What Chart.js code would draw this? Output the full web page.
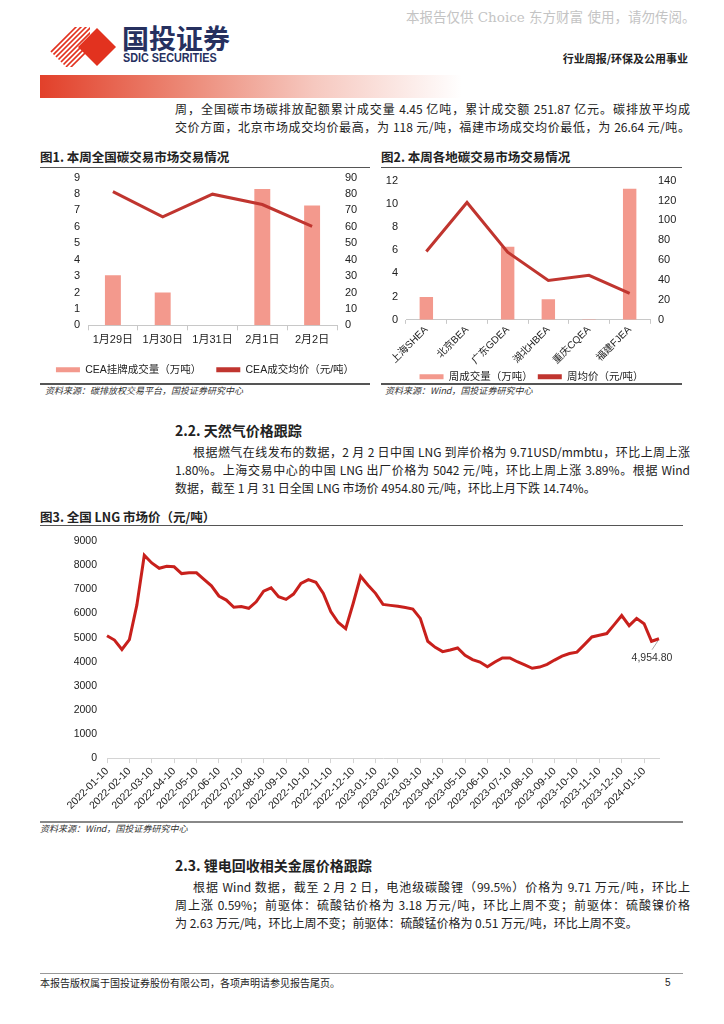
<!DOCTYPE html>
<html>
<head>
<meta charset="utf-8">
<script src="https://cdn.jsdelivr.net/npm/chart.js@4.4.1/dist/chart.umd.min.js"></script>
<style>
  body { margin: 0; background: #fff; }
  #page { position: relative; width: 724px; height: 1024px; overflow: hidden; font-family: "Noto Sans CJK SC", "Noto Sans", sans-serif; color: #222; }
  .abs { position: absolute; }
  .line { position: absolute; left: 175px; width: 515px; height: 18px; font-size: 12px; line-height: 18px; text-align: justify; text-align-last: justify; }
  .line.last { text-align-last: left; }
  .line.indent { padding-left: 18px; width: 497px; }
  .title { position: absolute; font-size: 12.5px; font-weight: 700; line-height: 16px; }
  .rule { position: absolute; height: 0; border-top: 1.5px solid #555; }
  .src { position: absolute; font-size: 9px; font-style: italic; color: #333; line-height: 12px; }
  .h2 { position: absolute; left: 175px; font-size: 14px; font-weight: 700; line-height: 18px; }
  .box { position: absolute; }
</style>
</head>
<body>
<div id="page">
  <!-- header -->
  <div class="abs" style="left:406px;top:6px;font-size:13.5px;color:#c4c4c4;font-family:'DejaVu Serif','Noto Sans CJK SC';white-space:nowrap;">本报告仅供 Choice 东方财富 使用，请勿传阅。</div>
  <svg class="abs" style="left:44px;top:25px" width="76" height="44" viewBox="0 0 76 44">
    <defs>
      <clipPath id="stripeClip"><polygon points="2,22 22,2 46,2 46,42 22,42"/></clipPath>
    </defs>
    <g clip-path="url(#stripeClip)" stroke="#e2321f" stroke-width="1.6">
      <line x1="-10" y1="44" x2="34" y2="0"/><line x1="-5" y1="44" x2="39" y2="0"/>
      <line x1="0" y1="44" x2="44" y2="0"/><line x1="5" y1="44" x2="49" y2="0"/>
      <line x1="10" y1="44" x2="54" y2="0"/><line x1="15" y1="44" x2="59" y2="0"/>
      <line x1="20" y1="44" x2="64" y2="0"/><line x1="25" y1="44" x2="69" y2="0"/>
    </g>
    <polygon points="34,22 53,3 72,22 53,41" fill="#e2321f"/>
  </svg>
  <div class="abs" style="left:122px;top:22px;font-size:27px;font-weight:700;color:#26305f;line-height:32px;">国投证券</div>
  <div class="abs" style="left:123px;top:51px;font-size:13.5px;font-weight:700;color:#26305f;font-family:'Liberation Sans',Arial;line-height:14px;white-space:nowrap;transform:scaleX(0.8);transform-origin:left top;">SDIC SECURITIES</div>
  <div class="abs" style="right:36px;top:51px;font-size:11px;font-weight:700;color:#222;line-height:14px;">行业周报/环保及公用事业</div>
  <div class="abs" style="left:40px;top:75px;width:422px;height:23px;background:linear-gradient(to right,#e2402a 0%,#ec8a78 35%,#f6c8bf 65%,rgba(255,255,255,0) 100%);"></div>

  <div class="line" style="top:100px;">周，全国碳市场碳排放配额累计成交量 4.45 亿吨，累计成交额 251.87 亿元。碳排放平均成</div>
  <div class="line" style="top:118px;">交价方面，北京市场成交均价最高，为 118 元/吨，福建市场成交均价最低，为 26.64 元/吨。</div>

  <!-- figure 1 & 2 -->
  <div class="title" style="left:40px;top:149px;">图1. 本周全国碳交易市场交易情况</div>
  <div class="rule" style="left:40px;top:167px;width:330px;"></div>
  <div class="rule" style="left:40px;top:383px;width:330px;border-top-width:2px;"></div>
  <div class="src" style="left:45px;top:385px;">资料来源：碳排放权交易平台，国投证券研究中心</div>
  <div class="box" style="left:40px;top:163px;width:330px;height:222px;"><canvas id="ceaChart"></canvas></div>

  <div class="title" style="left:381px;top:149px;">图2. 本周各地碳交易市场交易情况</div>
  <div class="rule" style="left:381px;top:167px;width:301px;"></div>
  <div class="rule" style="left:381px;top:383px;width:301px;border-top-width:2px;"></div>
  <div class="src" style="left:385px;top:385px;">资料来源：Wind，国投证券研究中心</div>
  <div class="box" style="left:381px;top:166px;width:301px;height:226px;"><canvas id="regionChart"></canvas></div>

  <!-- 2.2 -->
  <div class="h2" style="top:421px;">2.2. 天然气价格跟踪</div>
  <div class="line indent" style="top:443px;">根据燃气在线发布的数据，2 月 2 日中国 LNG 到岸价格为 9.71USD/mmbtu，环比上周上涨</div>
  <div class="line" style="top:461px;">1.80%。上海交易中心的中国 LNG 出厂价格为 5042 元/吨，环比上周上涨 3.89%。根据 Wind</div>
  <div class="line last" style="top:479px;">数据，截至 1 月 31 日全国 LNG 市场价 4954.80 元/吨，环比上月下跌 14.74%。</div>

  <!-- figure 3 -->
  <div class="title" style="left:40px;top:509px;">图3. 全国 LNG 市场价（元/吨）</div>
  <div class="rule" style="left:40px;top:525px;width:643px;"></div>
  <div class="rule" style="left:40px;top:821px;width:643px;border-top-width:2px;border-color:#888;"></div>
  <div class="src" style="left:40px;top:823px;">资料来源：Wind，国投证券研究中心</div>
  <div class="box" style="left:40px;top:525px;width:643px;height:295px;"><canvas id="lngChart"></canvas></div>

  <!-- 2.3 -->
  <div class="h2" style="top:856px;">2.3. 锂电回收相关金属价格跟踪</div>
  <div class="line indent" style="top:878px;">根据 Wind 数据，截至 2 月 2 日，电池级碳酸锂（99.5%）价格为 9.71 万元/吨，环比上</div>
  <div class="line" style="top:896px;">周上涨 0.59%；前驱体：硫酸钴价格为 3.18 万元/吨，环比上周不变；前驱体：硫酸镍价格</div>
  <div class="line last" style="top:914px;">为 2.63 万元/吨，环比上周不变；前驱体：硫酸锰价格为 0.51 万元/吨，环比上周不变。</div>

  <!-- footer -->
  <div class="rule" style="left:40px;top:973px;width:643px;border-top:1px solid #999;"></div>
  <div class="abs" style="left:40px;top:976px;font-size:10px;line-height:14px;">本报告版权属于国投证券股份有限公司，各项声明请参见报告尾页。</div>
  <div class="abs" style="left:665px;top:976px;font-size:10px;line-height:14px;font-family:'Liberation Sans';">5</div>
</div>

<script>
// figure 1: national carbon market, this week
const ceaDays = ["1月29日", "1月30日", "1月31日", "2月1日", "2月2日"];
const ceaVolume = [3.05, 2.0, 0, 8.3, 7.3];      // 万吨
const ceaPrice = [81.5, 66.1, 79.9, 73.6, 60.3];  // 元/吨

// figure 2: regional carbon markets
const regions = ["上海SHEA", "北京BEA", "广东GDEA", "湖北HBEA", "重庆CQEA", "福建FJEA"];
const regionVolume = [1.97, 0, 6.3, 1.77, 0.06, 11.3];   // 万吨
const regionPrice = [68.7, 118, 68, 39.5, 44.8, 26.64];  // 元/吨

// figure 3: LNG market price, per 旬
const lngDates = [
  "2022-01-10", "2022-01-20", "2022-01-31", "2022-02-10", "2022-02-20", "2022-02-28",
  "2022-03-10", "2022-03-20", "2022-03-31", "2022-04-10", "2022-04-20", "2022-04-30",
  "2022-05-10", "2022-05-20", "2022-05-31", "2022-06-10", "2022-06-20", "2022-06-30",
  "2022-07-10", "2022-07-20", "2022-07-31", "2022-08-10", "2022-08-20", "2022-08-31",
  "2022-09-10", "2022-09-20", "2022-09-30", "2022-10-10", "2022-10-20", "2022-10-31",
  "2022-11-10", "2022-11-20", "2022-11-30", "2022-12-10", "2022-12-20", "2022-12-31",
  "2023-01-10", "2023-01-20", "2023-01-31", "2023-02-10", "2023-02-20", "2023-02-28",
  "2023-03-10", "2023-03-20", "2023-03-31", "2023-04-10", "2023-04-20", "2023-04-30",
  "2023-05-10", "2023-05-20", "2023-05-31", "2023-06-10", "2023-06-20", "2023-06-30",
  "2023-07-10", "2023-07-20", "2023-07-31", "2023-08-10", "2023-08-20", "2023-08-31",
  "2023-09-10", "2023-09-20", "2023-09-30", "2023-10-10", "2023-10-20", "2023-10-31",
  "2023-11-10", "2023-11-20", "2023-11-30", "2023-12-10", "2023-12-20", "2023-12-31",
  "2024-01-10", "2024-01-20", "2024-01-31"
];
const lngPrice = [
  5080, 4900, 4510, 4920, 6350, 8420, 8100, 7880, 7960, 7940, 7660, 7690,
  7690, 7420, 7150, 6730, 6560, 6260, 6290, 6220, 6490, 6930, 7070, 6700,
  6590, 6810, 7250, 7410, 7300, 6840, 6080, 5630, 5370, 6420, 7550, 7180,
  6840, 6380, 6340, 6300, 6250, 6190, 5800, 4850, 4600, 4420, 4490, 4570,
  4270, 4090, 3990, 3790, 3990, 4160, 4160, 4000, 3870, 3730, 3780, 3890,
  4070, 4230, 4340, 4400, 4710, 5030, 5100, 5170, 5540, 5920, 5500, 5800,
  5580, 4850, 4954.80
];

const barColor = "#f3998d";
const lineColor = "#c0352f";
const axisGray = "#c8c8c8";
const tickFont = { family: "'Liberation Sans', 'Noto Sans CJK SC'", size: 11 };

Chart.defaults.animation = false;
Chart.defaults.color = "#222";

function flatLegend(chart) {
  // plain filled boxes, in dataset order
  return Chart.defaults.plugins.legend.labels.generateLabels(chart)
    .sort((a, b) => a.datasetIndex - b.datasetIndex)
    .map((item) => {
      const ds = chart.data.datasets[item.datasetIndex];
      item.fillStyle = ds.type === "line" ? ds.borderColor : ds.backgroundColor;
      item.lineWidth = 0;
      return item;
    });
}

function comboOptions(cfg) {
  return {
    responsive: true,
    maintainAspectRatio: false,
    layout: { padding: 0 },
    plugins: {
      tooltip: { enabled: false },
      legend: {
        position: "bottom",
        labels: { boxWidth: 24, boxHeight: 5, padding: cfg.legendPad, font: { family: tickFont.family, size: 10.5 }, generateLabels: flatLegend },
      },
    },
    scales: {
      x: {
        offset: true,
        grid: { display: true, drawOnChartArea: false, offset: true, tickLength: cfg.tickLen, color: axisGray },
        border: { color: axisGray },
        ticks: { font: { family: tickFont.family, size: cfg.xFont }, padding: cfg.xPad, autoSkip: false, minRotation: cfg.rotate, maxRotation: cfg.rotate },
      },
      y: {
        position: "left",
        min: 0,
        max: cfg.leftMax,
        afterFit: (scale) => { scale.width = cfg.leftW; },
        ticks: { stepSize: cfg.leftStep, padding: 8, autoSkip: false, font: tickFont },
        grid: { display: false, drawTicks: false },
        border: { display: false },
      },
      y1: {
        position: "right",
        min: 0,
        max: cfg.rightMax,
        afterFit: (scale) => { scale.width = cfg.rightW; },
        ticks: { stepSize: cfg.rightStep, padding: 8, autoSkip: false, font: tickFont },
        grid: { display: false, drawTicks: false },
        border: { display: false },
      },
    },
  };
}

// Figure 1
new Chart(document.getElementById("ceaChart"), {
  data: {
    labels: ceaDays,
    datasets: [
      { type: "bar", label: "CEA挂牌成交量（万吨）", data: ceaVolume, backgroundColor: barColor, yAxisID: "y", barPercentage: 0.32, categoryPercentage: 1, order: 2 },
      { type: "line", label: "CEA成交均价（元/吨）", data: ceaPrice, borderColor: lineColor, borderWidth: 3, pointRadius: 0, tension: 0, yAxisID: "y1", order: 1 },
    ],
  },
  options: comboOptions({ leftMax: 9, leftStep: 1, rightMax: 90, rightStep: 10, rotate: 0, leftW: 48, rightW: 33, legendPad: 15, tickLen: 5, xPad: 3, xFont: 11 }),
});

// Figure 2
new Chart(document.getElementById("regionChart"), {
  data: {
    labels: regions,
    datasets: [
      { type: "bar", label: "周成交量（万吨）", data: regionVolume, backgroundColor: barColor, yAxisID: "y", barPercentage: 0.33, categoryPercentage: 1, order: 2 },
      { type: "line", label: "周均价（元/吨）", data: regionPrice, borderColor: lineColor, borderWidth: 3, pointRadius: 0, tension: 0, yAxisID: "y1", order: 1 },
    ],
  },
  options: comboOptions({ leftMax: 12, leftStep: 2, rightMax: 140, rightStep: 20, rotate: 45, leftW: 25, rightW: 32, legendPad: 5, tickLen: 4, xPad: 0, xFont: 10 }),
});

// Figure 3: label on the last point
const lastValueLabel = {
  id: "lastValueLabel",
  afterDatasetsDraw(chart) {
    const pts = chart.getDatasetMeta(0).data;
    const pt = pts[pts.length - 1];
    const v = lngPrice[lngPrice.length - 1];
    const ctx = chart.ctx;
    ctx.save();
    ctx.strokeStyle = "#a8a8a8";
    ctx.lineWidth = 1;
    ctx.beginPath();
    ctx.moveTo(pt.x - 7, pt.y + 11);
    ctx.lineTo(pt.x - 1, pt.y + 2);
    ctx.stroke();
    ctx.fillStyle = "#333";
    ctx.font = "10.5px 'Liberation Sans'";
    ctx.textAlign = "center";
    ctx.textBaseline = "middle";
    ctx.fillText(v.toLocaleString("en-US", { minimumFractionDigits: 2 }), pt.x - 7, pt.y + 19);
    ctx.restore();
  },
};

new Chart(document.getElementById("lngChart"), {
  type: "line",
  data: {
    labels: lngDates,
    datasets: [{ data: lngPrice, borderColor: "#c8201c", borderWidth: 3, pointRadius: 0, tension: 0 }],
  },
  options: {
    responsive: true,
    maintainAspectRatio: false,
    layout: { padding: { left: 0, right: 24, top: 0, bottom: 6 } },
    plugins: { legend: { display: false }, tooltip: { enabled: false } },
    scales: {
      x: {
        grid: { display: true, drawOnChartArea: false, tickLength: 5, color: "#d4d4d4" },
        border: { color: "#d4d4d4" },
        afterBuildTicks: (scale) => {
          scale.ticks = scale.ticks.filter((t) => lngDates[t.value].endsWith("-10"));
        },
        ticks: { font: { family: "'Liberation Sans'", size: 10.5 }, autoSkip: false, minRotation: 45, maxRotation: 45, padding: 2 },
      },
      y: {
        min: 0,
        max: 9000,
        afterFit: (scale) => { scale.width = 67; },
        ticks: { stepSize: 1000, padding: 10, font: { family: "'Liberation Sans'", size: 10.5 }, callback: (v) => String(v) },
        grid: { display: false, drawTicks: false },
        border: { display: false },
      },
    },
  },
  plugins: [lastValueLabel],
});
</script>
</body>
</html>
